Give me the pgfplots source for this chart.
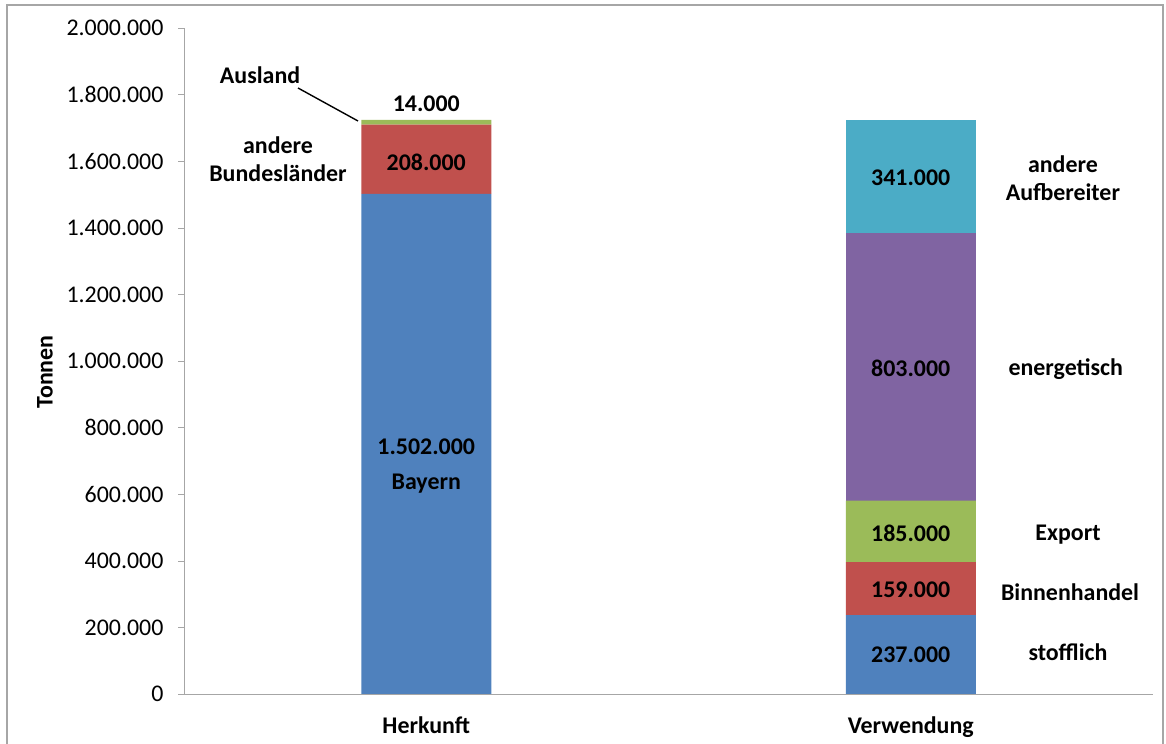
\documentclass[border=0pt]{standalone}
\usepackage{pgfplots}
\pgfplotsset{compat=1.18}
\usepackage{fontspec}
\setmainfont{Carlito}
\definecolor{cblue}{HTML}{4F81BD}
\definecolor{cred}{HTML}{C0504D}
\definecolor{cgreen}{HTML}{9BBB59}
\definecolor{cpurple}{HTML}{8064A2}
\definecolor{caqua}{HTML}{4BACC6}
\definecolor{axgray}{HTML}{A6A6A6}
\newcommand{\lf}{\fontsize{24}{28}\selectfont\bfseries}
\begin{document}
\begin{tikzpicture}[x=1bp,y=1bp]
\useasboundingbox (0,0) rectangle (1166,744);
\draw[axgray, line width=1.2bp] (7,-5) rectangle (1163,739);
\begin{axis}[
  at={(184bp,50bp)}, anchor=south west,
  scale only axis, width=969bp, height=666bp,
  xmin=-0.5, xmax=1.5, ymin=0, ymax=2000000,
  ybar stacked, bar width=130bp,
  clip=false,
  axis lines*=left,
  axis line style={axgray},
  xtick={0,1}, xticklabels={Herkunft,Verwendung},
  major x tick style={draw=none},
  extra x ticks={-0.5,0.5,1.5}, extra x tick labels={},
  extra x tick style={tick style={axgray}, major tick length=6bp},
  tick align=outside,
  ytick={0,200000,...,2000000},
  scaled y ticks=false,
  y tick style={axgray},
  major tick length=6bp,
  yticklabel style={font=\fontsize{24}{26}\selectfont, xshift=-11bp,
    /pgf/number format/fixed, /pgf/number format/1000 sep={.},
    /pgf/number format/assume math mode=true},
  xticklabel style={font=\lf, yshift=-13bp},
]
\addplot[fill=cblue, draw=none] coordinates {(0,1502000) (1,237000)};
\addplot[fill=cred, draw=none] coordinates {(0,208000) (1,159000)};
\addplot[fill=cgreen, draw=none] coordinates {(0,14000) (1,185000)};
\addplot[fill=cpurple, draw=none] coordinates {(0,0) (1,803000)};
\addplot[fill=caqua, draw=none] coordinates {(0,0) (1,341000)};

\coordinate (h1) at (axis cs:0,742000);
\coordinate (h1b) at (axis cs:0,632000);
\coordinate (h2) at (axis cs:0,1597000);
\coordinate (h3) at (axis cs:0,1772000);
\coordinate (v5) at (axis cs:1,1550000);
\coordinate (v4) at (axis cs:1,978000);
\coordinate (v3) at (axis cs:1,482000);
\coordinate (v2) at (axis cs:1,313000);
\coordinate (v1) at (axis cs:1,118500);
\coordinate (c5) at (axis cs:1.314,1549500);
\coordinate (c4) at (axis cs:1.320,976000);
\coordinate (c3) at (axis cs:1.3245,478000);
\coordinate (c2) at (axis cs:1.3287,306300);
\coordinate (c1) at (axis cs:1.3245,126100);
\coordinate (aus) at (axis cs:-0.343,1858900);
\coordinate (bund) at (axis cs:-0.306,1606600);
\coordinate (l1) at (axis cs:-0.2647,1819800);
\coordinate (l2) at (axis cs:-0.1409,1720700);
\end{axis}
\node[font=\lf] at (h1) {1.502.000};
\node[font=\lf] at (h1b) {Bayern};
\node[font=\lf] at (h2) {208.000};
\node[font=\lf] at (h3) {14.000};
\node[font=\lf] at (v5) {341.000};
\node[font=\lf] at (v4) {803.000};
\node[font=\lf] at (v3) {185.000};
\node[font=\lf] at (v2) {159.000};
\node[font=\lf] at (v1) {237.000};
\node[font=\lf, align=center] at (c5) {andere\\Aufbereiter};
\node[font=\lf] at (c4) {energetisch};
\node[font=\lf] at (c3) {Export};
\node[font=\lf] at (c2) {Binnenhandel};
\node[font=\lf] at (c1) {stofflich};
\node[font=\lf] at (aus) {Ausland};
\node[font=\lf, align=center] at (bund) {andere\\Bundesländer};
\draw[black, line width=1.4bp] (l1) -- (l2);
\node[font=\lf, rotate=90] at (45,372) {Tonnen};
\end{tikzpicture}
\end{document}
